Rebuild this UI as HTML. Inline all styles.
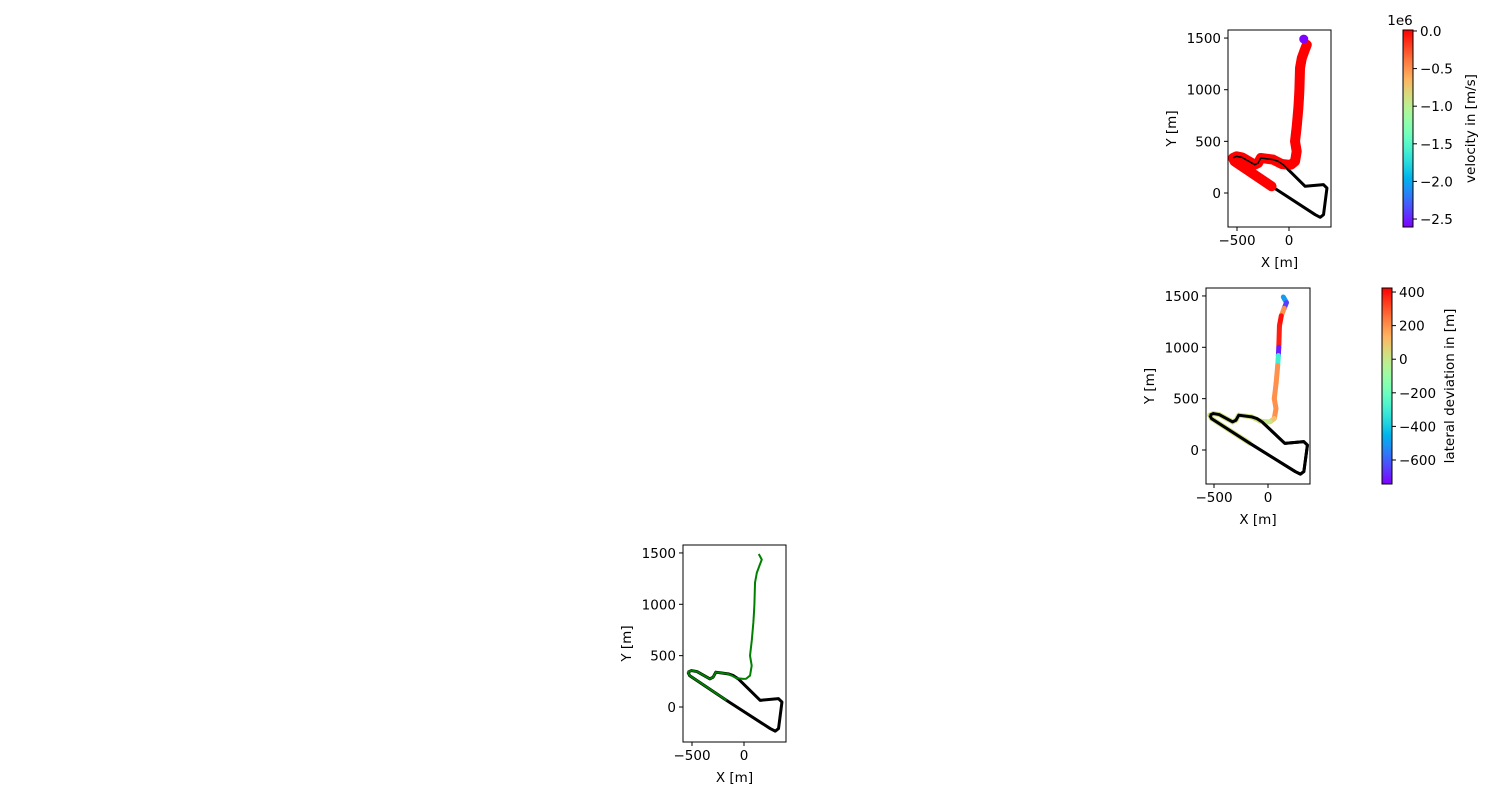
<!DOCTYPE html>
<html><head><meta charset="utf-8"><style>
body{margin:0;background:#fff}
svg text{font-family:"DejaVu Sans","Liberation Sans",sans-serif;font-size:13.5px;fill:#000}
</style></head><body>
<svg id="fig" width="1500" height="800" xmlns="http://www.w3.org/2000/svg"></svg>
<script>
const trackX=[-539,-506,-452,-329,-297,-271,-152,-103,-55,155,332,365,332,300,252,-168,-523,-539];
const trackY=[339,355,345,274,290,339,323,306,274,65,81,48,-210,-235,-210,65,306,339];
const pathX=[142,171,150,123,106,100,96,90,75,58,74,58,20,-6,-71,-152,-271,-297,-329,-452,-506,-539,-523,-168];
const pathY=[1490,1435,1380,1306,1210,1000,920,823,650,500,403,306,275,274,281,323,339,290,274,345,355,339,306,65];
const latDev=[-500,-650,200,400,380,-700,-300,200,200,200,200,100,0,0,30,30,30,30,30,30,30,30,30,30];
const velocity=[-2600000,0,0,0,0,0,0,0,0,0,0,0,0,0,0,0,0,0,0,0,0,0,0,0];
const xTicks=[-500,0];
const yTicks=[1500,1000,500,0];
const velTicks=[0.0,-0.5,-1.0,-1.5,-2.0,-2.5];
const latTicks=[400,200,0,-200,-400,-600];

const NS="http://www.w3.org/2000/svg";
const svg=document.getElementById('fig');
function el(tag,attrs,parent){const e=document.createElementNS(NS,tag);for(const k in attrs)e.setAttribute(k,attrs[k]);(parent||svg).appendChild(e);return e;}
function rainbow(t){t=Math.max(0,Math.min(1,t));const r=Math.min(1,Math.abs(2*t-0.5)),g=Math.sin(Math.PI*t),b=Math.cos(Math.PI*t/2);return `rgb(${Math.round(r*255)},${Math.round(g*255)},${Math.round(b*255)})`;}
function text(x,y,s,anchor,rot,name){const t=el('text',{x:x,y:y,'text-anchor':anchor||'middle'});if(rot)t.setAttribute('transform',`rotate(-90 ${x} ${y})`);t.textContent=s;

return t;}

function panel(L,T,W,H,x0,xpx0,xm,y0,ypx0,ym,id){
  const g=el('g',{});
  
  
  const sx=v=>xpx0+(v-x0)*xm, sy=v=>ypx0-(v-y0)*ym;
  const cp=el('clipPath',{id:'c'+id},g);el('rect',{x:L,y:T,width:W,height:H},cp);
  const plot=el('g',{'clip-path':`url(#c${id})`},g);
  const tr=el('polyline',{points:trackX.map((v,i)=>sx(v)+','+sy(trackY[i])).join(' '),fill:'none',stroke:'#000','stroke-width':3,'stroke-linejoin':'round'},plot);
  
  
  el('rect',{x:L,y:T,width:W,height:H,fill:'none',stroke:'#000','stroke-width':1},g);
  xTicks.forEach(v=>{const x=sx(v);el('line',{x1:x,x2:x,y1:T+H,y2:T+H+4,stroke:'#000'},g);text(x,T+H+18,v===0?'0':'\u2212'+Math.abs(v),'middle',false,'x-tick-label');});
  yTicks.forEach(v=>{const y=sy(v);el('line',{x1:L-4,x2:L,y1:y,y2:y,stroke:'#000'},g);text(L-7,y+5,String(v),'end',false,'y-tick-label');});
  text(L+W/2,T+H+40,'X [m]','middle',false,'x-axis-title');
  text(L-52,T+H/2,'Y [m]','middle',true,'y-axis-title');
  return {plot,sx,sy};
}
function colorbar(L,T,W,H,vmin,vmax,ticks,fmt,label,id){
  const gr=el('linearGradient',{id:'g'+id,x1:0,y1:1,x2:0,y2:0});
  for(let i=0;i<=20;i++)el('stop',{offset:i/20,'stop-color':rainbow(i/20)},gr);
  const r=el('rect',{x:L,y:T,width:W,height:H,fill:`url(#g${id})`,stroke:'#000','stroke-width':1});
  
  
  ticks.forEach(v=>{const y=T+H-(v-vmin)/(vmax-vmin)*H;el('line',{x1:L+W,x2:L+W+4,y1:y,y2:y,stroke:'#000'});text(L+W+7,y+5,fmt(v),'start',false,'colorbar-tick-label');});
  text(L+W+62,T+H/2,label,'middle',true,'colorbar-title');
}
const m=v=>v<0?'\u2212'+Math.abs(v):String(v);

// Panel 1: velocity
const p1=panel(1228,30,103,197,0,1289,0.104,0,193,0.1033,'velocity-panel');
const vl=el('polyline',{points:pathX.slice(1).map((v,i)=>p1.sx(v)+','+p1.sy(pathY[i+1])).join(' '),fill:'none',stroke:'#ff0000','stroke-width':10,'stroke-linejoin':'round','stroke-linecap':'round'},p1.plot);


const tr1=el('polyline',{points:trackX.slice(0,10).map((v,i)=>p1.sx(v)+','+p1.sy(trackY[i])).join(' '),fill:'none',stroke:'#000','stroke-width':1.5,'stroke-linejoin':'round'},p1.plot);
pathX.forEach((v,i)=>{if(velocity[i]<-1e5){const c=el('circle',{cx:p1.sx(v),cy:p1.sy(pathY[i]),r:4.5,fill:rainbow((velocity[i]/1e6+2.606)/2.619)},p1.plot);

}});
colorbar(1403,30,10,197,-2.606,0.013,velTicks,v=>(v<0?'\u2212':'')+Math.abs(v).toFixed(1),'velocity in [m/s]','velocity-colorbar');
text(1400,25,'1e6','middle',false,'colorbar-offset');

// Panel 2: lateral deviation
const p2=panel(1206,288,104,196,0,1268,0.108,0,450,0.1027,'lateral-panel');
for(let i=0;i<pathX.length-1;i++){const s=el('line',{x1:p2.sx(pathX[i]),y1:p2.sy(pathY[i]),x2:p2.sx(pathX[i+1]),y2:p2.sy(pathY[i+1]),stroke:rainbow((latDev[i]+743)/1167),'stroke-width':5,'stroke-linecap':'round'},p2.plot);

}
const tr2=el('polyline',{points:trackX.map((v,i)=>p2.sx(v)+','+p2.sy(trackY[i])).join(' '),fill:'none',stroke:'#000','stroke-width':3,'stroke-linejoin':'round'},p2.plot);
colorbar(1382,288,10,196,-743,424,latTicks,m,'lateral deviation in [m]','lateral-colorbar');

// Panel 3: trajectory
const p3=panel(683,545,103,197,0,744,0.104,0,707,0.1027,'trajectory-panel');
const gl=el('polyline',{points:pathX.map((v,i)=>p3.sx(v)+','+p3.sy(pathY[i])).join(' '),fill:'none',stroke:'#008000','stroke-width':2,'stroke-linejoin':'round'},p3.plot);


</script>
</body></html>
